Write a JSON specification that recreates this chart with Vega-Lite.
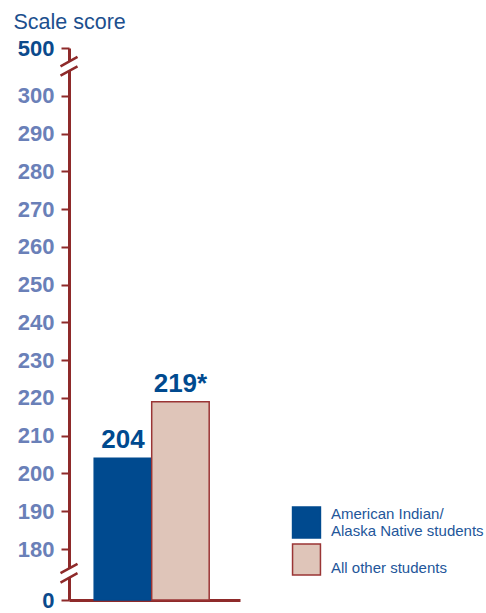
{
  "$schema": "https://vega.github.io/schema/vega-lite/v6.json",
  "autosize": "none",
  "width": 171,
  "height": 552,
  "padding": {"left": 69, "top": 48, "right": 246, "bottom": 13},
  "background": "white",
  "config": {
    "view": {"stroke": null},
    "axis": {"grid": false}
  },
  "data": {
    "values": [
      {"group": "American Indian/Alaska Native students", "score": 204, "label": "204"},
      {"group": "All other students", "score": 219, "label": "219*"}
    ]
  },
  "layer": [
    {
      "layer": [
        {
          "mark": {"type": "bar", "strokeWidth": 1.5},
          "encoding": {
            "x": {
              "field": "group",
              "type": "nominal",
              "sort": null,
              "scale": {"paddingInner": 0, "paddingOuter": 0.487, "align": 0.45},
              "axis": {
                "title": null,
                "labels": false,
                "ticks": false,
                "domainColor": "#8e2a2a",
                "domainWidth": 3
              }
            },
            "y": {
              "field": "score",
              "type": "quantitative",
              "scale": {"domain": [166.5, 312.65], "zero": false, "nice": false},
              "axis": {
                "title": "Scale score",
                "titleAngle": 0,
                "titleX": -56,
                "titleY": -20,
                "titleAlign": "left",
                "titleBaseline": "alphabetic",
                "titleFont": "Liberation Sans",
                "titleFontSize": 21.5,
                "titleFontWeight": "normal",
                "titleColor": "#1c4f8e",
                "values": [166.5, 180, 190, 200, 210, 220, 230, 240, 250, 260, 270, 280, 290, 300, 312.65],
                "tickCount": 20,
                "labelExpr": "datum.value < 170 ? '0' : (datum.value > 310 ? '500' : datum.label)",
                "labelColor": {"condition": {"test": "datum.value < 170 || datum.value > 310", "value": "#0b4a8c"}, "value": "#6a80b8"},
                "labelFont": "Liberation Sans",
                "labelFontSize": 22,
                "labelFontWeight": "bold",
                "labelPadding": 7,
                "labelOverlap": false,
                "tickSize": 8,
                "tickWidth": 2,
                "tickColor": "#8e2a2a",
                "domainColor": "#8e2a2a",
                "domainWidth": 3
              }
            },
            "y2": {"datum": 166.5},
            "fill": {
              "field": "group",
              "type": "nominal",
              "sort": null,
              "scale": {"range": ["#004a8f", "#dfc5b9"]},
              "legend": {
                "title": null,
                "orient": "none",
                "legendX": 221,
                "legendY": 458,
                "symbolType": "M-0.9,-1L0.9,-1L0.9,1L-0.9,1Z",
                "symbolSize": 961,
                "symbolStrokeWidth": 1.5,
                "labelFont": "Liberation Sans",
                "labelFontSize": 15,
                "labelColor": "#23569a",
                "labelOffset": 8,
                "labelLimit": 300,
                "labelBaseline": "line-bottom",
                "rowPadding": 0,
                "padding": 0,
                "labelExpr": "datum.label == 'All other students' ? [' ', 'All other students'] : ['American Indian/', 'Alaska Native students']"
              }
            },
            "stroke": {
              "field": "group",
              "type": "nominal",
              "sort": null,
              "scale": {"range": ["#004a8f", "#9a3535"]},
              "legend": null
            }
          }
        },
        {
          "mark": {
            "type": "text",
            "font": "Liberation Sans",
            "fontSize": 26,
            "fontWeight": "bold",
            "color": "#004a8f",
            "baseline": "alphabetic",
            "dy": -10
          },
          "encoding": {
            "x": {"field": "group", "type": "nominal", "sort": null},
            "y": {"field": "score", "type": "quantitative"},
            "text": {"field": "label"}
          }
        }
      ]
    },
    {
      "data": {"values": [{"brk": 173.6}, {"brk": 307.8}]},
      "mark": {"type": "point", "filled": true, "fill": "white", "strokeWidth": 0, "opacity": 1,
               "shape": "M-1,0L1,-1.1L1,0L-1,1.1Z", "size": 289},
      "encoding": {
        "x": {"datum": 0, "type": "quantitative", "scale": {"domain": [0, 1]}, "axis": null},
        "y": {"field": "brk", "type": "quantitative"}
      }
    },
    {
      "data": {"values": [{"brk": 173.6}, {"brk": 307.8}]},
      "mark": {"type": "point", "filled": false, "stroke": "#8e2a2a", "strokeWidth": 2.5, "opacity": 1,
               "shape": "M-1,0L1,-1.1M-1,1.1L1,0", "size": 289},
      "encoding": {
        "x": {"datum": 0, "type": "quantitative", "scale": {"domain": [0, 1]}, "axis": null},
        "y": {"field": "brk", "type": "quantitative"}
      }
    }
  ],
  "resolve": {"scale": {"x": "independent"}}
}
